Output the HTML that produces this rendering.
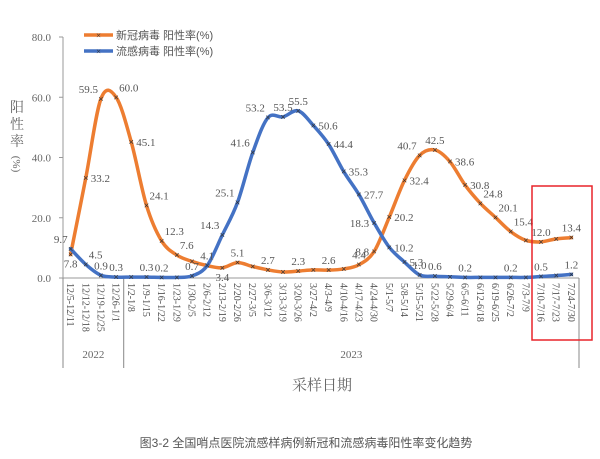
<!DOCTYPE html>
<html><head><meta charset="utf-8"><style>
html,body{margin:0;padding:0;background:#fff;width:600px;height:459px;overflow:hidden}
svg{display:block;font-family:"Liberation Serif","Noto Serif CJK SC",serif}
</style></head><body>
<svg id="chart" width="600" height="459" viewBox="0 0 600 459">
<g id="axes"></g>
<g id="series"></g>
<g id="labels"></g>
<g>
<line x1="84" y1="35" x2="113" y2="35" stroke="#ED7D31" stroke-width="3.5"/>
<text x="98.5" y="38.5" font-size="9" text-anchor="middle" fill="#333">×</text>
<text x="116" y="39" font-size="11" fill="#555" font-family="Liberation Sans,Noto Sans CJK SC,sans-serif">新冠病毒 阳性率(%)</text>
<line x1="84" y1="51" x2="113" y2="51" stroke="#4472C4" stroke-width="3.5"/>
<text x="98.5" y="54.5" font-size="9" text-anchor="middle" fill="#333">×</text>
<text x="116" y="55" font-size="11" fill="#555" font-family="Liberation Sans,Noto Sans CJK SC,sans-serif">流感病毒 阳性率(%)</text>
</g>
<g fill="#666" font-size="14" font-family="Liberation Serif,Noto Serif CJK SC,serif">
<text x="17" y="112" text-anchor="middle">阳</text>
<text x="17" y="129" text-anchor="middle">性</text>
<text x="17" y="146" text-anchor="middle">率</text>
<text x="17" y="168" text-anchor="middle" font-size="11" transform="rotate(90 17 164)">(%)</text>
</g>
<text x="322" y="390" font-size="15" text-anchor="middle" fill="#666" font-family="Liberation Serif,Noto Serif CJK SC,serif">采样日期</text>
<text x="306" y="447" font-size="12" text-anchor="middle" fill="#555" font-family="Liberation Sans,Noto Sans CJK SC,sans-serif">图3-2 全国哨点医院流感样病例新冠和流感病毒阳性率变化趋势</text>
<rect x="532" y="186" width="60" height="154" fill="none" stroke="#E8242A" stroke-width="1.5"/>
</svg>
<script>
const categories=["12/5-12/11","12/12-12/18","12/19-12/25","12/26-1/1","1/2-1/8","1/9-1/15","1/16-1/22","1/23-1/29","1/30-2/5","2/6-2/12","2/13-2/19","2/20-2/26","2/27-3/5","3/6-3/12","3/13-3/19","3/20-3/26","3/27-4/2","4/3-4/9","4/10-4/16","4/17-4/23","4/24-4/30","5/1-5/7","5/8-5/14","5/15-5/21","5/22-5/28","5/29-6/4","6/5-6/11","6/12-6/18","6/19-6/25","6/26-7/2","7/3-7/9","7/10-7/16","7/17-7/23","7/24-7/30"];
const covidValues=[7.8,33.2,59.5,60.0,45.1,24.1,12.3,7.6,5.5,4.1,3.4,5.1,3.8,2.7,2.0,2.3,2.7,2.6,3.0,4.4,8.8,20.2,32.4,40.7,42.5,38.6,30.8,24.8,20.1,15.4,12.5,12.0,13.0,13.4];
const fluValues=[9.7,4.5,0.9,0.3,0.3,0.3,0.2,0.2,0.7,4.1,14.3,25.1,41.6,53.2,53.5,55.5,50.6,44.4,35.3,27.7,18.3,10.2,5.3,1.0,0.6,0.4,0.2,0.2,0.2,0.2,0.2,0.5,0.8,1.2];
const covidLabels=["7.8","33.2","59.5","60.0","45.1","24.1","12.3","7.6","","4.1","3.4","5.1","","2.7","","2.3","","2.6","","4.4","8.8","20.2","32.4","40.7","42.5","38.6","30.8","24.8","20.1","15.4","","12.0","","13.4"];
const fluLabels=["9.7","4.5","0.9","0.3","","0.3","0.2","","0.7","","14.3","25.1","41.6","53.2","53.5","55.5","50.6","44.4","35.3","27.7","18.3","10.2","5.3","1.0","0.6","","0.2","","","0.2","","0.5","","1.2"];
const yTicks=[0,20,40,60,80];
const years=[{label:"2022",from:0,to:4},{label:"2023",from:4,to:34}];
</script>
<script>
// label placement codes (layout only): r=right, l=left, a=above, b=below, ar=above-right, al=above-left
const covidPlace=["b","r","al","ar","r","ar","ar","ar","","a","b","a","","a","","a","","a","","a","l","r","r","al","a","r","r","ar","ar","ar","","a","","a"];
const fluPlace=["al","ar","a","a","","a","a","","a","","al","al","al","al","a","a","r","r","r","r","l","r","r","a","a","","a","","","a","","a","","a"];
const NS="http://www.w3.org/2000/svg";
const X0=63,X1=579,Y0=278,Y80=37;
const n=categories.length;
const step=(X1-X0)/n;
function xS(i){return X0+step*(i+0.5);}
function yS(v){return Y0-(v/80)*(Y0-Y80);}
function mk(tag,attrs,parent){const e=document.createElementNS(NS,tag);for(const k in attrs)e.setAttribute(k,attrs[k]);parent.appendChild(e);return e;}
const axes=document.getElementById('axes');
const series=document.getElementById('series');
const labels=document.getElementById('labels');
let yl=mk('line',{x1:X0,y1:Y80,x2:X0,y2:Y0,stroke:'#999','stroke-width':1},axes);


yTicks.forEach(t=>{
  const tk=mk('line',{x1:X0-4,y1:yS(t),x2:X0,y2:yS(t),stroke:'#999'},axes);
  
  
  const tx=mk('text',{x:X0-12,y:yS(t)+4,'font-size':11,'text-anchor':'end',fill:'#666'},axes);
  tx.textContent=t.toFixed(1);
  
  
});
let xl=mk('line',{x1:X0,y1:Y0,x2:X1,y2:Y0,stroke:'#999','stroke-width':1},axes);


[0,4,n].forEach(b=>{
  const l=mk('line',{x1:X0+step*b,y1:Y0,x2:X0+step*b,y2:368,stroke:'#888'},axes);
  
  
});
years.forEach(yr=>{
  const t=mk('text',{x:X0+step*(yr.from+yr.to)/2,y:358,'font-size':11,'text-anchor':'middle',fill:'#666'},axes);
  t.textContent=yr.label;
  
  
});
categories.forEach((c,i)=>{
  const x=xS(i)-3.5,y=283;
  const t=mk('text',{x:x,y:y,'font-size':10,fill:'#555',transform:`rotate(90 ${x} ${y})`},axes);
  t.textContent=c;
  
  
});
function smooth(pts){
  let d=`M${pts[0][0]},${pts[0][1]}`;
  for(let i=0;i<pts.length-1;i++){
    const p0=pts[i-1]||pts[i],p1=pts[i],p2=pts[i+1],p3=pts[i+2]||p2;
    const c1=[p1[0]+(p2[0]-p0[0])/6,p1[1]+(p2[1]-p0[1])/6];
    const c2=[p2[0]-(p3[0]-p1[0])/6,p2[1]-(p3[1]-p1[1])/6];
    d+=` C${c1[0]},${c1[1]} ${c2[0]},${c2[1]} ${p2[0]},${p2[1]}`;
  }
  return d;
}
function draw(vals,color,name){
  const pts=vals.map((v,i)=>[xS(i),yS(v)]);
  const p=mk('path',{d:smooth(pts),fill:'none',stroke:color,'stroke-width':3.5,'stroke-linecap':'round'},series);
  
  
  pts.forEach(pt=>{
    const m=mk('text',{x:pt[0],y:pt[1]+3,'font-size':9,'text-anchor':'middle',fill:'#333','font-family':'Liberation Sans,sans-serif'},series);
    m.textContent='×';
    
    
  });
}
draw(covidValues,'#ED7D31','covid');
draw(fluValues,'#4472C4','flu');
const OFF={r:[5,4,'start'],l:[-5,4,'end'],a:[0,-6,'middle'],b:[0,13,'middle'],ar:[3,-6,'start'],al:[-3,-6,'end']};
function lab(vals,labs,place,name){
  vals.forEach((v,i)=>{
    if(!labs[i])return;
    const o=OFF[place[i]||'a'];
    const t=mk('text',{x:xS(i)+o[0],y:yS(v)+o[1],'font-size':11,'text-anchor':o[2],fill:'#555'},labels);
    t.textContent=labs[i];
    
    
  });
}
lab(covidValues,covidLabels,covidPlace,'covid');
lab(fluValues,fluLabels,fluPlace,'flu');
</script>
</body></html>
